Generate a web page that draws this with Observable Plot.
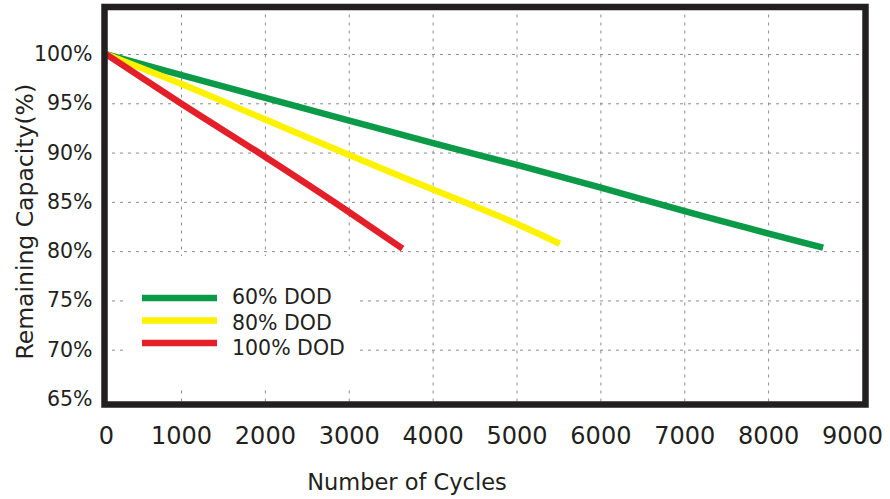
<!DOCTYPE html>
<html><head><meta charset="utf-8">
<script src="https://cdn.jsdelivr.net/npm/d3@7"></script>
<script src="https://cdn.jsdelivr.net/npm/@observablehq/plot@0.6"></script>
<style>
html,body{margin:0;padding:0;background:#fff;}
#wrap{position:relative;width:890px;height:499px;overflow:hidden}
#wrap svg{display:block}
#legend{position:absolute;left:0;top:0}
</style></head><body><div id="wrap"></div>
<script>
const seriesNames = ["60% DOD", "80% DOD", "100% DOD"];
const seriesColors = ["#0b9a48", "#fff200", "#e3202a"];
const cycles60 = [0, 1000, 2000, 3000, 4000, 5000, 6000, 7000, 8650];
const capacity60 = [100, 97.9, 95.6, 93.3, 91.0, 88.8, 86.5, 84.1, 80.4];
const cycles80 = [0, 1000, 2000, 3000, 4000, 5000, 5510];
const capacity80 = [100, 97.0, 93.4, 89.8, 86.3, 82.8, 80.8];
const cycles100 = [0, 1000, 2000, 3000, 3635];
const capacity100 = [100, 95.0, 89.6, 84.0, 80.3];
const xTicks = [0, 1000, 2000, 3000, 4000, 5000, 6000, 7000, 8000, 9000];
const xGrid = [1000, 2000, 3000, 4000, 5000, 6000, 7000, 8000];
const yTicks = [65, 70, 75, 80, 85, 90, 95, 100];
const yGrid = [70, 75, 80, 85, 90, 95, 100];
const xTitle = "Number of Cycles";
const yTitle = "Remaining Capacity(%)";

const allCycles = [cycles60, cycles80, cycles100];
const allCapacity = [capacity60, capacity80, capacity100];
const rows = seriesNames.flatMap((s, i) =>
  allCycles[i].map((c, j) => ({series: s, cycles: c, capacity: allCapacity[i][j]})));

const ink = "#231f20";
const chart = Plot.plot({
  width: 890, height: 499,
  marginLeft: 104, marginRight: 25, marginTop: 6.5, marginBottom: 95,
  style: {fontFamily: "DejaVu Sans", fontSize: "20px", color: ink, background: "#fff"},
  x: {type: "linear", domain: [0, 1000, 9000], range: [106, 181, 852]},
  y: {domain: [65, 100], range: [399, 54]},
  color: {domain: seriesNames, range: seriesColors},
  marks: [
    Plot.gridX(xGrid, {stroke: "#8c8c8c", strokeOpacity: 1, strokeWidth: 1, strokeDasharray: "3,5"}),
    Plot.gridY(yGrid, {stroke: "#8c8c8c", strokeOpacity: 1, strokeWidth: 1, strokeDasharray: "3,5"}),
    Plot.line(rows, {x: "cycles", y: "capacity", stroke: "series", strokeWidth: 6.5, strokeLinecap: "butt", curve: "monotone-x"}),
    Plot.frame({stroke: ink, strokeWidth: 6.5}),
    Plot.axisX(xTicks, {tickSize: 0, tickPadding: 22, fontSize: 24, tickFormat: d => String(d), label: null, fill: ink}),
    Plot.axisY(yTicks, {tickSize: 0, tickPadding: 12, fontSize: 20.5, tickFormat: d => d + "%", label: null, fill: ink}),
    Plot.text([xTitle], {frameAnchor: "bottom", textAnchor: "middle", dx: -78, dy: 85, fontSize: 22.5, fill: ink}),
    Plot.text([yTitle], {frameAnchor: "left", textAnchor: "middle", rotate: -90, dx: -79, dy: 16, fontSize: 23.5, fill: ink})
  ]
});
const wrap = document.getElementById("wrap");
wrap.appendChild(chart);

const leg = d3.select(wrap).append("svg").attr("id", "legend").attr("width", 890).attr("height", 499);
leg.append("rect").attr("x", 124).attr("y", 256).attr("width", 233).attr("height", 134).attr("fill", "#fff");
const g = leg.selectAll("g.row").data(seriesNames).join("g").attr("class", "row");
g.append("line")
  .attr("x1", 142).attr("x2", 217)
  .attr("y1", (d, i) => 298 + i * 22.5).attr("y2", (d, i) => 298 + i * 22.5)
  .attr("stroke", (d, i) => seriesColors[i]).attr("stroke-width", 6.5);
g.append("text")
  .attr("x", 232).attr("y", (d, i) => 297 + i * 25.5).attr("dy", "0.36em")
  .attr("font-family", "DejaVu Sans").attr("font-size", 20.5).attr("fill", ink)
  .text(d => d);
</script></body></html>
